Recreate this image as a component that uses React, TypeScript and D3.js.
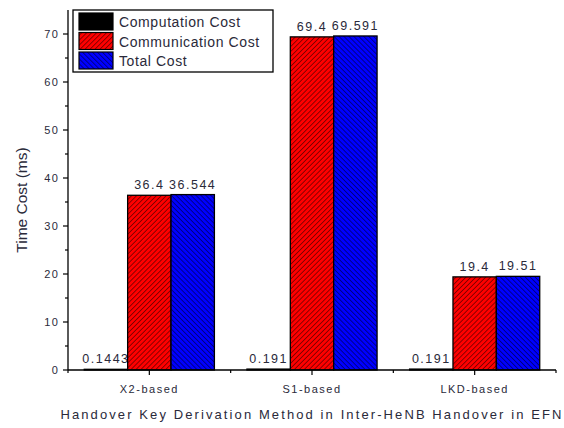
import React from "react";
import * as d3 from "d3";

const categories = ["X2-based", "S1-based", "LKD-based"];
const seriesNames = ["Computation Cost", "Communication Cost", "Total Cost"];
const computation = [0.1443, 0.191, 0.191];
const communication = [36.4, 69.4, 19.4];
const total = [36.544, 69.591, 19.51];
const valueLabels = [
  ["0.1443", "36.4", "36.544"],
  ["0.191", "69.4", "69.591"],
  ["0.191", "19.4", "19.51"],
];
const yTicks = [0, 10, 20, 30, 40, 50, 60, 70];
const yMinorTicks = [5, 15, 25, 35, 45, 55, 65];

const W = 564;
const H = 428;
const left = 68;
const right = 556;
const top = 10;
const bottom = 370;
const textColor = "#2a2a3a";
const font = "'Liberation Sans', Arial, sans-serif";

export default function App() {
  const series = [computation, communication, total];
  const fills = ["#000000", "url(#hatchRed)", "url(#hatchBlue)"];
  const y = d3.scaleLinear().domain([0, 75]).range([bottom, top]);
  const x = d3.scaleBand<string>().domain(categories).range([left, right]).paddingInner(0).paddingOuter(0);
  const bw = x.bandwidth();
  const inner = d3.scaleBand<string>().domain(seriesNames).range([bw * 0.1, bw * 0.9]).padding(0);

  const boundaries = categories.map((c) => x(c)!).concat([right]);

  return (
    <svg width={W} height={H} style={{ position: "absolute", left: 0, top: 0, background: "#fff" }}>
      <defs>
        <pattern id="hatchRed" patternUnits="userSpaceOnUse" width="3.5" height="3.5" patternTransform="rotate(45)">
          <rect width="3.5" height="3.5" fill="#ff0000" />
          <line x1="0" y1="0" x2="0" y2="3.5" stroke="#000" strokeWidth="0.9" />
        </pattern>
        <pattern id="hatchBlue" patternUnits="userSpaceOnUse" width="3.5" height="3.5" patternTransform="rotate(-45)">
          <rect width="3.5" height="3.5" fill="#0000ff" />
          <line x1="0" y1="0" x2="0" y2="3.5" stroke="#000" strokeWidth="0.9" />
        </pattern>
      </defs>

      {/* bars */}
      {categories.map((c, ci) =>
        series.map((s, si) => {
          const bx = x(c)! + inner(seriesNames[si])!;
          const by = y(s[ci]);
          return (
            <g key={c + si}>
              <rect
                x={bx}
                y={by}
                width={inner.bandwidth()}
                height={Math.max(0, bottom - by)}
                fill={fills[si]}
                stroke="#000"
                strokeWidth={1.3}
              />
              <text
                x={bx + inner.bandwidth() / 2}
                y={by - 6}
                textAnchor="middle"
                fontFamily={font}
                fontSize={12.5}
                letterSpacing={1.5}
                fill={textColor}
              >
                {valueLabels[ci][si]}
              </text>
            </g>
          );
        })
      )}

      {/* y axis */}
      <line x1={left} y1={top} x2={left} y2={bottom} stroke="#000" strokeWidth={1.3} />
      {yTicks.map((t) => (
        <g key={"y" + t}>
          <line x1={left - 5} x2={left} y1={y(t)} y2={y(t)} stroke="#000" strokeWidth={1.2} />
          <text
            x={left - 9}
            y={y(t) + 4}
            textAnchor="end"
            fontFamily={font}
            fontSize={11}
            letterSpacing={1.2}
            fill={textColor}
          >
            {t}
          </text>
        </g>
      ))}
      {yMinorTicks.map((t) => (
        <line key={"ym" + t} x1={left - 3} x2={left} y1={y(t)} y2={y(t)} stroke="#000" strokeWidth={1.2} />
      ))}
      <text
        transform={`translate(27,${(top + bottom) / 2 + 10}) rotate(-90)`}
        textAnchor="middle"
        fontFamily={font}
        fontSize={15.5}
        fill={textColor}
      >
        Time Cost (ms)
      </text>

      {/* x axis */}
      <line x1={left} y1={bottom} x2={right} y2={bottom} stroke="#000" strokeWidth={1.3} />
      {categories.map((c) => (
        <g key={"x" + c}>
          <line
            x1={x(c)! + bw / 2}
            x2={x(c)! + bw / 2}
            y1={bottom}
            y2={bottom + 5}
            stroke="#000"
            strokeWidth={1.2}
          />
          <text
            x={x(c)! + bw / 2}
            y={bottom + 23}
            textAnchor="middle"
            fontFamily={font}
            fontSize={11}
            letterSpacing={1.5}
            fill={textColor}
          >
            {c}
          </text>
        </g>
      ))}
      {boundaries.map((b, i) => (
        <line key={"xm" + i} x1={b} x2={b} y1={bottom} y2={bottom + 3} stroke="#000" strokeWidth={1.2} />
      ))}
      <text
        x={312}
        y={419}
        textAnchor="middle"
        fontFamily={font}
        fontSize={13}
        letterSpacing={2.1}
        fill={textColor}
      >
        Handover Key Derivation Method in Inter-HeNB Handover in EFN
      </text>

      {/* legend */}
      <rect x={73} y={10} width={200} height={62} fill="#fff" stroke="#000" strokeWidth={1.3} />
      {seriesNames.map((n, i) => (
        <g key={"lg" + n}>
          <rect x={79} y={13 + i * 19.5} width={34} height={17} fill={fills[i]} stroke="#000" strokeWidth={1.2} />
          <text x={119} y={27 + i * 19.5} fontFamily={font} fontSize={14} fill={textColor} letterSpacing={0.6}>
            {n}
          </text>
        </g>
      ))}
    </svg>
  );
}
